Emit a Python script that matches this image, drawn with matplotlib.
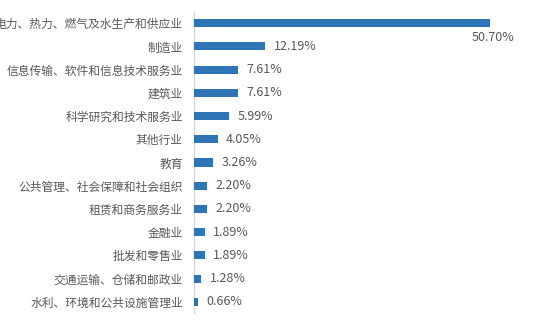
import matplotlib
matplotlib.use("Agg")
import matplotlib.pyplot as plt

plt.rcParams["font.family"] = ["Noto Sans CJK SC", "DejaVu Sans"]

# ── data ──────────────────────────────────────────────────────────────────
industries = [
    "电力、热力、燃气及水生产和供应业",
    "制造业",
    "信息传输、软件和信息技术服务业",
    "建筑业",
    "科学研究和技术服务业",
    "其他行业",
    "教育",
    "公共管理、社会保障和社会组织",
    "租赁和商务服务业",
    "金融业",
    "批发和零售业",
    "交通运输、仓储和邮政业",
    "水利、环境和公共设施管理业",
]
shares = [50.70, 12.19, 7.61, 7.61, 5.99, 4.05, 3.26, 2.20, 2.20, 1.89, 1.89, 1.28, 0.66]

BAR = "#2E75B6"
TXT = "#595959"

fig = plt.figure(figsize=(5.45, 3.31), dpi=100)
ax = fig.add_axes([194 / 545, 18 / 331, 326 / 545, 301 / 331])

ypos = list(range(len(industries)))
ax.barh(ypos, shares, height=0.35, color=BAR, zorder=3)

ax.set_ylim(len(industries) - 0.52, -0.48)
ax.set_xlim(0, 55.8)
ax.set_yticks(ypos)
ax.set_yticklabels(industries, fontsize=8.5, color=TXT)
ax.tick_params(axis="y", length=0, pad=8)
ax.set_xticks([])

for s in ["top", "right", "bottom"]:
    ax.spines[s].set_visible(False)
ax.spines["left"].set_color("#D9D9D9")
ax.spines["left"].set_linewidth(1.0)

# value labels
for i, v in enumerate(shares):
    if i == 0:
        ax.annotate(f"{v:.2f}%", (v, i), xytext=(2, -10), textcoords="offset points",
                    ha="center", va="center", fontsize=9, color=TXT)
    else:
        ax.annotate(f"{v:.2f}%", (v, i), xytext=(6, 0), textcoords="offset points",
                    ha="left", va="center", fontsize=9, color=TXT)

fig.savefig("out.png", dpi=100)
